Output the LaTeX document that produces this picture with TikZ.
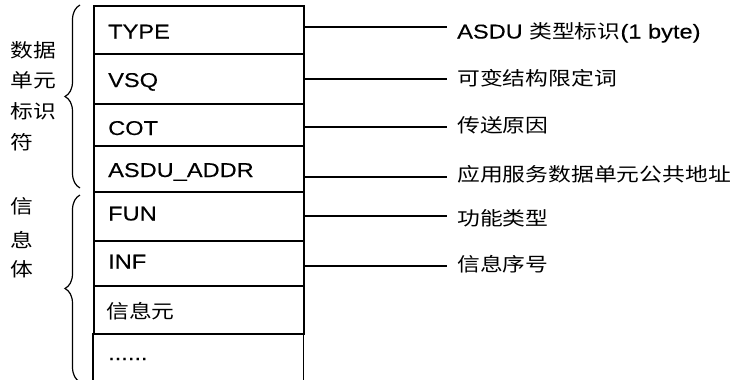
\documentclass[tikz,border=0pt]{standalone}
\usepackage{fontspec}
\setmainfont{Liberation Sans}[FakeStretch=1.18,FakeBold=0.2]
\newfontfamily\cjk{Noto Sans CJK SC}[FakeStretch=1.2]
\usetikzlibrary{decorations.pathreplacing}
\begin{document}
\begin{tikzpicture}[x=1pt,y=-1pt,
  rowbox/.style={draw, line width=1.5pt, minimum width=210pt, inner sep=0pt, anchor=north west},
  boxline/.style={line width=1.5pt},
  conn/.style={line width=1.3pt},
  lat/.style={inner sep=0pt, anchor=base west, font=\fontsize{20}{22}\selectfont},
  cjktext/.style={inner sep=0pt, anchor=base west, font=\cjk\fontsize{19}{22}\selectfont},
  bracestyle/.style={line width=1.2pt, decorate, decoration={brace, amplitude=15pt}}]
\useasboundingbox (0,0) rectangle (744,380);

% rows of the frame
\node[rowbox, minimum height=48pt] (r1) at (93,5) {};
\node[rowbox, minimum height=50pt] (r2) at (93,53) {};
\node[rowbox, minimum height=42pt] (r3) at (93,103) {};
\node[rowbox, minimum height=46pt] (r4) at (93,145) {};
\node[rowbox, minimum height=49pt] (r5) at (93,191) {};
\node[rowbox, minimum height=45pt] (r6) at (93,240) {};
\node[rowbox, minimum height=48pt] (r7) at (93,285) {};
\node[inner sep=0pt, minimum width=210pt, minimum height=49pt, anchor=north west] (r8) at (93,333) {};
\draw[boxline] (r8.north west) -- (r8.south west);
\draw[boxline] (r8.north east) -- (r8.south east);

% texts in the rows
\node[lat] (f1) at (108,38.5) {TYPE};
\node[lat] (f2) at (108,87) {VSQ};
\node[lat] (f3) at (108,135) {COT};
\node[lat] (f4) at (108,177) {ASDU\_ADDR};
\node[lat] (f5) at (108,220.5) {FUN};
\node[lat] (f6) at (108,268.5) {INF};
\node[cjktext] (f7) at (106,318) {信息元};
\node[lat] (f8) at (108,360) {......};

% right labels
\node[lat] (t1) at (457,38.5) {ASDU {\cjk\fontsize{19}{22}\selectfont 类型标识}(1 byte)};
\node[cjktext] (t2) at (457,85) {可变结构限定词};
\node[cjktext] (t3) at (457,132) {传送原因};
\node[cjktext] (t4) at (457,181) {应用服务数据单元公共地址};
\node[cjktext] (t5) at (457,225) {功能类型};
\node[cjktext] (t6) at (457,271) {信息序号};

% connector ends
\coordinate (e1) at (447,27);
\coordinate (e2) at (447,79);
\coordinate (e3) at (447,127);
\coordinate (e4) at (447,177);
\coordinate (e5) at (447,216);
\coordinate (e6) at (447,266);
\draw[conn] (r1.east |- e1) -- (e1);
\draw[conn] (r2.east |- e2) -- (e2);
\draw[conn] (r3.east |- e3) -- (e3);
\draw[conn] (r4.east |- e4) -- (e4);
\draw[conn] (r5.east |- e5) -- (e5);
\draw[conn] (r6.east |- e6) -- (e6);

% braces
\draw[bracestyle] (80,188) -- (80,5);
\draw[bracestyle] (80,382) -- (80,195);

% left labels
\node[cjktext] (a1) at (10,57) {数据};
\node[cjktext] (a2) at (10,87) {单元};
\node[cjktext] (a3) at (10,118) {标识};
\node[cjktext] (a4) at (10,149) {符};
\node[cjktext] (b1) at (10,213) {信};
\node[cjktext] (b2) at (10,247) {息};
\node[cjktext] (b3) at (10,276) {体};
\end{tikzpicture}
\end{document}
